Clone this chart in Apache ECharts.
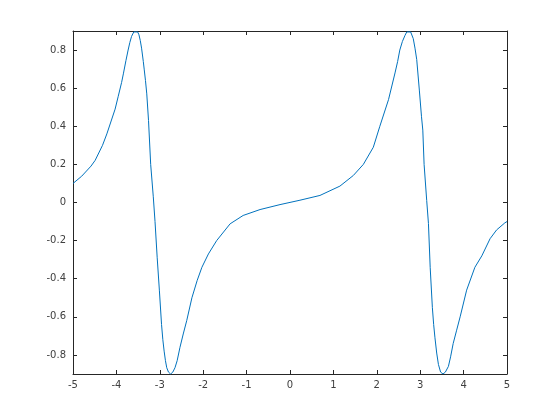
<!DOCTYPE html>
<html>
<head>
<meta charset="utf-8">
<script src="https://cdn.jsdelivr.net/npm/echarts@6/dist/echarts.min.js"></script>
<style>
  html, body { margin: 0; padding: 0; background: #fff; }
  #main { width: 560px; height: 420px; }
</style>
</head>
<body>
<div id="main"></div>
<script>
// 曲线数据
var xs = [-5, -4.80, -4.585, -4.49, -4.32, -4.22, -4.03, -3.96, -3.88, -3.84, -3.78, -3.73, -3.69, -3.65, -3.60, -3.555, -3.51, -3.48,
  -3.45, -3.42, -3.38, -3.36, -3.33, -3.30, -3.26, -3.21, -3.15, -3.11,
  -3.06, -3.01, -2.96, -2.93, -2.90, -2.87, -2.84, -2.80, -2.75, -2.70, -2.65, -2.60, -2.535, -2.46, -2.38, -2.26, -2.14, -2.03,
  -1.88, -1.69, -1.38, -1.08, -0.69, -0.23,
  0.23, 0.69, 1.15, 1.46, 1.69, 1.92, 2.07, 2.27, 2.42, 2.48, 2.53, 2.59, 2.65, 2.69, 2.735, 2.78, 2.84, 2.88, 2.92, 2.98,
  3.03, 3.06, 3.09, 3.15, 3.19,
  3.23, 3.28, 3.31, 3.34, 3.38, 3.42, 3.47, 3.525, 3.58, 3.65, 3.70, 3.76, 3.84, 3.92, 4.07, 4.26, 4.42, 4.61, 4.76, 4.95, 5];
var ys = [0.10, 0.138, 0.191, 0.221, 0.30, 0.36, 0.49, 0.555, 0.63, 0.675, 0.745, 0.80, 0.84, 0.872, 0.895, 0.90, 0.895, 0.88,
  0.85, 0.81, 0.74, 0.70, 0.64, 0.57, 0.43, 0.20, 0.03, -0.10,
  -0.29, -0.46, -0.64, -0.72, -0.78, -0.83, -0.867, -0.89, -0.90, -0.89, -0.867, -0.83, -0.76, -0.69, -0.62, -0.50, -0.41, -0.34,
  -0.27, -0.20, -0.112, -0.068, -0.037, -0.011,
  0.012, 0.037, 0.086, 0.142, 0.20, 0.29, 0.40, 0.54, 0.68, 0.74, 0.80, 0.845, 0.877, 0.895, 0.90, 0.895, 0.86, 0.81, 0.75, 0.59,
  0.45, 0.38, 0.20, 0.01, -0.11,
  -0.34, -0.55, -0.64, -0.71, -0.79, -0.85, -0.89, -0.90, -0.89, -0.86, -0.81, -0.74, -0.67, -0.60, -0.46, -0.34, -0.28, -0.19, -0.144, -0.107, -0.10];
var yTicks = [-0.8, -0.6, -0.4, -0.2, 0, 0.2, 0.4, 0.6, 0.8];

var pts = xs.map(function (x, i) { return [x, ys[i]]; });

var axisColor = '#262626';
var chart = echarts.init(document.getElementById('main'));

function xAx(pos, showLabel) {
  return {
    type: 'value', position: pos, min: -5, max: 5, interval: 1,
    axisLine: { show: true, onZero: false, lineStyle: { color: axisColor, width: 1 } },
    axisTick: { show: true, inside: true, length: 4, lineStyle: { color: axisColor } },
    axisLabel: { show: showLabel, color: '#404040', fontSize: 10, margin: 6, fontFamily: 'DejaVu Sans' },
    splitLine: { show: false }
  };
}
function yAx(pos, showLabel) {
  return {
    type: 'value', position: pos, min: -0.9, max: 0.9,
    axisLine: { show: true, onZero: false, lineStyle: { color: axisColor, width: 1 } },
    axisTick: { show: true, inside: true, length: 4, customValues: yTicks, lineStyle: { color: axisColor } },
    axisLabel: { show: showLabel, color: '#404040', fontSize: 10, margin: 7, customValues: yTicks,
      fontFamily: 'DejaVu Sans',
      formatter: function (v) { return String(Math.round(v * 10) / 10); } },
    splitLine: { show: false }
  };
}

var option = {
  animation: false,
  backgroundColor: '#fff',
  grid: { left: 73, right: 53, top: 31, bottom: 46, containLabel: false },
  xAxis: [xAx('bottom', true), xAx('top', false)],
  yAxis: [yAx('left', true), yAx('right', false)],
  series: [{
    type: 'line',
    data: pts,
    showSymbol: false,
    smooth: false,
    lineStyle: { color: '#0072BD', width: 1 },
    itemStyle: { color: '#0072BD' }
  }]
};
chart.setOption(option);

window.addEventListener('resize', function () { chart.resize(); });
</script>
</body>
</html>
